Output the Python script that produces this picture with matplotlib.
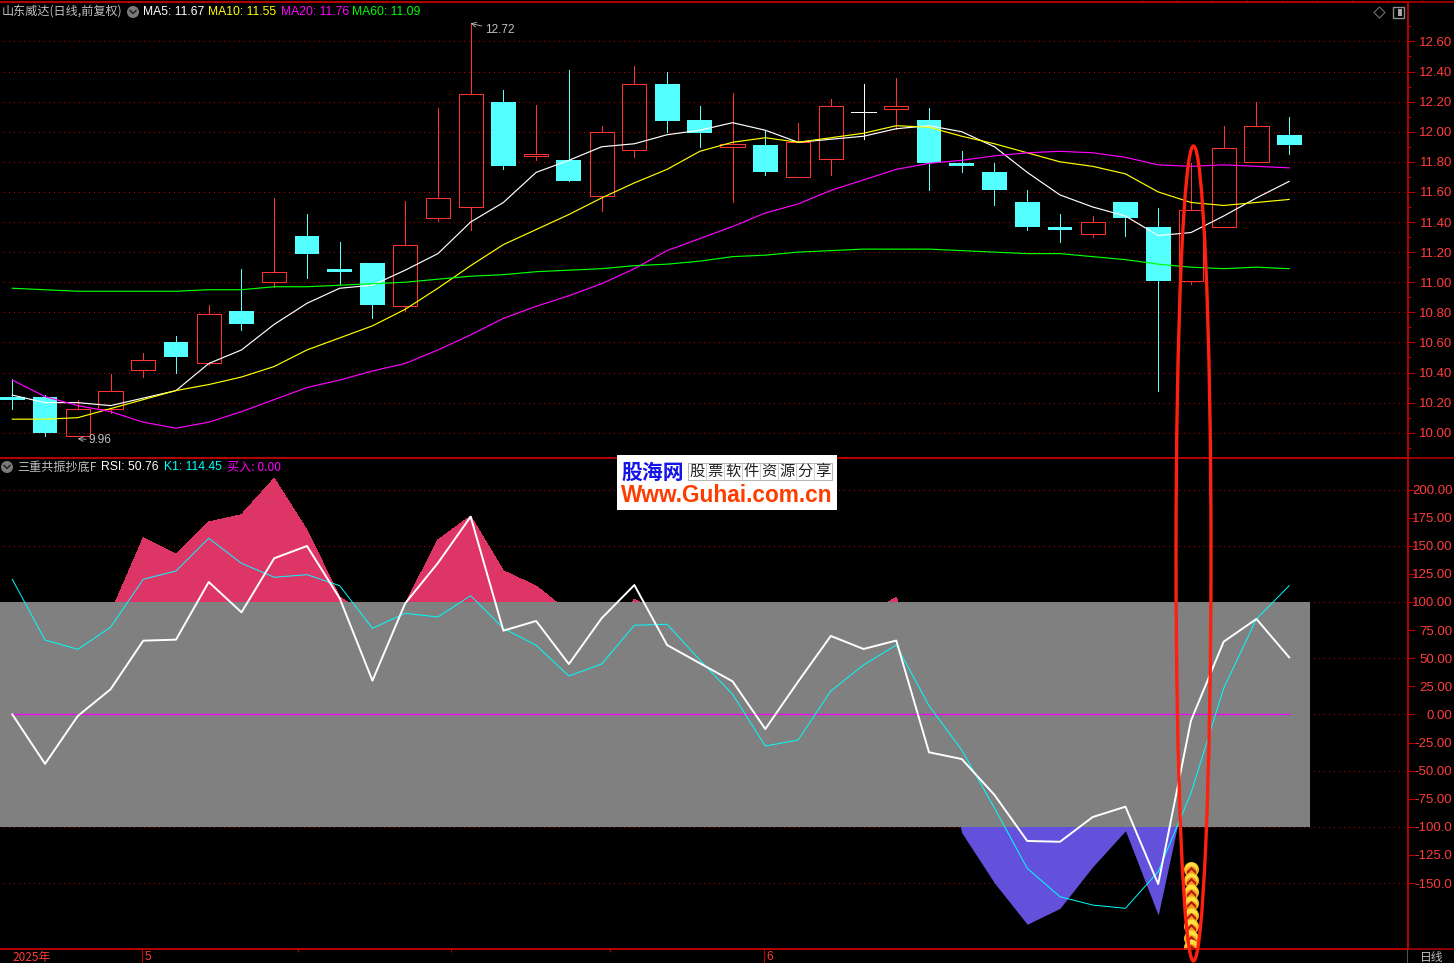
"""Stock candlestick chart with MA lines and an RSI / K1 sub-pane on a black terminal background."""

import matplotlib
matplotlib.use("Agg")
import matplotlib.pyplot as plt
from matplotlib.patches import Circle, Ellipse, Polygon, Rectangle

plt.rcParams["font.family"] = ["Noto Sans CJK SC", "DejaVu Sans"]

BLACK = "#000000"
RED = "#FF3232"
DARK_RED = "#B80000"
DOT_RED = "#C00000"
CYAN = "#54FFFF"
LABEL_RED = "#FF3C3C"
GREY = "#C0C0C0"
NUM_FONT = ["Liberation Sans", "DejaVu Sans"]

# Data
opens = [10.24, 10.24, 9.98, 10.16, 10.42, 10.60, 10.46, 10.81, 11.00, 11.31,
         11.09, 11.13, 10.84, 11.43, 11.50, 12.20, 11.84, 11.81, 11.57, 11.88,
         12.32, 12.08, 11.90, 11.91, 11.70, 11.82, 12.13, 12.15, 12.08, 11.79,
         11.73, 11.53, 11.37, 11.32, 11.53, 11.37, 11.01, 11.37, 11.80, 11.98]
closes = [10.22, 10.00, 10.16, 10.28, 10.48, 10.50, 10.79, 10.72, 11.07, 11.19,
          11.07, 10.85, 11.25, 11.56, 12.25, 11.77, 11.85, 11.67, 12.00, 12.32,
          12.07, 11.99, 11.92, 11.73, 11.93, 12.17, 12.13, 12.17, 11.79, 11.77,
          11.61, 11.37, 11.35, 11.40, 11.43, 11.01, 11.48, 11.89, 12.04, 11.91]
highs = [10.36, 10.25, 10.22, 10.39, 10.53, 10.64, 10.85, 11.09, 11.56, 11.45,
         11.27, 11.13, 11.54, 12.16, 12.72, 12.28, 12.18, 12.41, 12.04, 12.44,
         12.40, 12.17, 12.26, 12.01, 12.06, 12.22, 12.32, 12.36, 12.16, 11.87,
         11.79, 11.61, 11.45, 11.44, 11.53, 11.49, 11.79, 12.04, 12.20, 12.10]
lows = [10.16, 9.98, 9.98, 10.13, 10.37, 10.40, 10.45, 10.68, 10.97, 11.03,
        10.99, 10.76, 10.81, 11.41, 11.35, 11.75, 11.81, 11.67, 11.47, 11.83,
        12.00, 11.90, 11.53, 11.71, 11.70, 11.71, 11.95, 12.02, 11.61, 11.73,
        11.51, 11.35, 11.27, 11.30, 11.31, 10.28, 10.99, 11.37, 11.80, 11.85]

ma5 = [10.25, 10.20, 10.20, 10.18, 10.23, 10.28, 10.46, 10.55, 10.72, 10.86,
       10.96, 10.98, 11.08, 11.19, 11.40, 11.53, 11.73, 11.81, 11.90, 11.92,
       11.98, 12.01, 12.06, 12.01, 11.93, 11.95, 11.97, 12.02, 12.04, 12.00,
       11.90, 11.73, 11.58, 11.50, 11.44, 11.31, 11.33, 11.44, 11.56, 11.67]
ma10 = [10.09, 10.09, 10.10, 10.16, 10.22, 10.28, 10.32, 10.37, 10.44, 10.55,
        10.63, 10.71, 10.82, 10.96, 11.11, 11.25, 11.35, 11.45, 11.56, 11.66,
        11.75, 11.87, 11.93, 11.96, 11.93, 11.96, 11.99, 12.04, 12.03, 11.97,
        11.92, 11.86, 11.80, 11.77, 11.72, 11.60, 11.53, 11.51, 11.53, 11.55]
ma20 = [10.35, 10.24, 10.18, 10.14, 10.07, 10.03, 10.07, 10.14, 10.22, 10.30,
        10.35, 10.41, 10.46, 10.55, 10.65, 10.76, 10.84, 10.91, 10.99, 11.09,
        11.21, 11.29, 11.37, 11.46, 11.52, 11.61, 11.68, 11.75, 11.79, 11.81,
        11.84, 11.86, 11.87, 11.86, 11.83, 11.78, 11.77, 11.78, 11.77, 11.76]
ma60 = [10.96, 10.95, 10.94, 10.94, 10.94, 10.94, 10.95, 10.95, 10.97, 10.97,
        10.98, 10.99, 11.00, 11.02, 11.04, 11.05, 11.07, 11.08, 11.09, 11.11,
        11.12, 11.14, 11.17, 11.18, 11.20, 11.21, 11.22, 11.22, 11.22, 11.21,
        11.20, 11.19, 11.19, 11.17, 11.15, 11.12, 11.10, 11.09, 11.10, 11.09]

rsi = [0, -44, -1.4, 22.3, 65.6, 66.5, 117.8, 90.8, 138.9, 149.8,
       103.3, 30, 98.8, 134.7, 175.9, 74.5, 83.1, 44.8, 85.5, 115.1,
       61.7, 45.5, 29.4, -13, 29.1, 69.8, 58.2, 65.7, -33.7, -39.7,
       -71.7, -112.6, -113.3, -91.3, -82.1, -150.9, -5.6, 64.7, 84.9, 50.76]
k1 = [120.2, 66.2, 57.9, 77.5, 120.2, 127.6, 156.7, 134.4, 122, 124.3,
      114.5, 76.6, 89.9, 86.7, 105.6, 76.6, 61.5, 34.2, 44.8, 79.3,
      80.2, 48.4, 17.9, -28.1, -22.8, 20.8, 44, 61.7, 7.7, -31.7,
      -83.3, -136.9, -162.2, -169.6, -172.5, -139.9, -70.2, 23.2, 84.9, 114.45]
momentum = [40, 30, 40, 90, 157, 142.7, 171.2, 177.7, 210, 164,
            104.4, 85, 98.5, 155.2, 176.5, 127.8, 114.2, 91, 65, 102.4,
            87, 60, 50, 10, 30, 60, 87, 104.2, 10, -105.2,
            -150, -186.7, -172.5, -135.5, -103.5, -178.5, -44, 40, 60, 70]
buy_line = [0.0] * 40
buy_day = 36
buy_marks = [-137.5, -147.3, -157.7, -168, -178.5, -188.3, -198.7, -206.7]

price_ticks = [10.0, 10.2, 10.4, 10.6, 10.8, 11.0, 11.2, 11.4, 11.6, 11.8, 12.0, 12.2, 12.4, 12.6]
price_minor = [9.9, 10.1, 10.3, 10.5, 10.7, 10.9, 11.1, 11.3, 11.5, 11.7, 11.9, 12.1, 12.3, 12.5, 12.7]
rsi_ticks = [200, 175, 150, 125, 100, 75, 50, 25, 0, -25, -50, -75, -100, -125, -150]
rsi_labels = ["200.00", "175.00", "150.00", "125.00", "100.00", "75.00", "50.00", "25.00",
              "0.00", "-25.00", "-50.00", "-75.00", "-100.0", "-125.0", "-150.0"]
rsi_grid = [200, 150, 100, 50, 0, -50, -100, -150]
month_pos = [4, 23]
month_labels = ["5", "6"]
week_pos = [8.74, 13.4, 18.26]

xs = list(range(len(opens)))

fig = plt.figure(figsize=(14.54, 9.63), dpi=100, facecolor=BLACK)
W, H = 1454.0, 963.0


def px_axes(top, bottom, right=1408):
    return fig.add_axes([0, (H - bottom) / H, right / W, (bottom - top) / H], facecolor=BLACK)


ax_k = px_axes(2, 458)
ax_r = px_axes(458, 949)
for ax in (ax_k, ax_r):
    ax.set_xlim(-0.3757, 42.63)
    ax.set_xticks([])
    ax.yaxis.tick_right()
    for side, spine in ax.spines.items():
        spine.set_color(DARK_RED)
        spine.set_linewidth(1.2)
        spine.set_visible(side != "left")
ax_k.set_ylim(9.832, 12.862)
ax_r.set_ylim(-208.7, 228.1)

# price pane
ax_k.hlines(price_ticks, -1, 43, color=DOT_RED, lw=0.72, linestyles=(0, (1, 4.5)), zorder=1, antialiased=False)
for i in xs:
    o, c, h, l = opens[i], closes[i], highs[i], lows[i]
    top, bot = max(o, c), min(o, c)
    if c > o:
        ax_k.vlines(i, top, h, color=RED, lw=0.6, zorder=2, antialiased=False)
        ax_k.vlines(i, l, bot, color=RED, lw=0.6, zorder=2, antialiased=False)
        ax_k.bar(i, top - bot, bottom=bot, width=0.74, facecolor="none", edgecolor=RED, linewidth=0.75, zorder=2)
    elif c == o:
        ax_k.vlines(i, l, h, color="white", lw=0.6, zorder=2, antialiased=False)
        ax_k.hlines(c, i - 0.37, i + 0.37, color="white", lw=0.6, zorder=2, antialiased=False)
    else:
        ax_k.vlines(i, l, h, color=CYAN, lw=0.6, zorder=2, antialiased=False)
        ax_k.bar(i, top - bot, bottom=bot, width=0.76, color=CYAN, linewidth=0, zorder=2)

for series, col in ((ma5, "white"), (ma10, "#FFFF00"), (ma20, "#FF00FF"), (ma60, "#00FF00")):
    ax_k.plot(xs, series, color=col, lw=0.85, zorder=3)

ax_k.set_yticks(price_ticks)
ax_k.set_yticklabels([f"{t:.2f}" for t in price_ticks])
ax_k.set_yticks(price_minor, minor=True)
ax_k.tick_params(axis="y", which="major", right=True, length=5, width=0.8, color=DARK_RED,
                 labelcolor=LABEL_RED, labelsize=9.5, pad=27)
ax_k.tick_params(axis="y", which="minor", right=True, length=2, width=0.8, color=DARK_RED)

ax_k.annotate("12.72", xy=(14, 12.72), xytext=(10, -5), textcoords="offset points", color=GREY,
              fontsize=8.5, family=NUM_FONT, va="center",
              arrowprops=dict(arrowstyle="->", color=GREY, lw=0.6, shrinkA=0, shrinkB=0), zorder=6)
ax_k.annotate("9.96", xy=(2, 9.96), xytext=(8, -1), textcoords="offset points", color=GREY,
              fontsize=8.5, family=NUM_FONT, va="center",
              arrowprops=dict(arrowstyle="->", color=GREY, lw=0.6, shrinkA=0, shrinkB=0), zorder=6)

# RSI pane
ax_r.hlines(rsi_grid, -1, 43, color=DOT_RED, lw=0.72, linestyles=(0, (1, 4.5)), zorder=1, antialiased=False)
ax_r.fill_between(xs, 0, momentum, where=[m >= 0 for m in momentum], interpolate=True,
                  color="#DE3567", linewidth=0, zorder=2, antialiased=False)
ax_r.fill_between(xs, 0, momentum, where=[m <= 0 for m in momentum], interpolate=True,
                  color="#6451DB", linewidth=0, zorder=2, antialiased=False)
ax_r.fill_between([-0.3757, 39.65], -100, 100, color="#808080", linewidth=0, zorder=3)
ax_r.plot(xs, buy_line, color="#FF00FF", lw=0.9, zorder=4)
ax_r.plot(xs, k1, color="#00FFFF", lw=0.7, zorder=5)
ax_r.plot(xs, rsi, color="white", lw=1.4, zorder=6)

chevron = [(-1, -0.45), (0, 0.55), (1, -0.45), (1, -1.05), (0, -0.05), (-1, -1.05)]
for n, v in enumerate(buy_marks):
    z = 7 + n * 0.1
    ax_r.scatter([buy_day], [v], s=118, color="#F2B21C", linewidths=0, zorder=z)
    ax_r.scatter([buy_day], [v + 1.2], s=72, color="#FFE040", linewidths=0, zorder=z + 0.01)
    ax_r.scatter([buy_day], [v - 2.2], s=58, color="#F7981A", linewidths=0, zorder=z + 0.02)
    ax_r.plot([buy_day], [v], marker=chevron, ms=7, color="#B01414", mew=0, ls="none", zorder=z + 0.03)

ax_r.set_yticks(rsi_ticks)
ax_r.set_yticklabels(rsi_labels)
ax_r.tick_params(axis="y", which="major", right=True, length=5, width=0.8, color=DARK_RED,
                 labelcolor=LABEL_RED, labelsize=9.5, pad=27)

for ax in (ax_k, ax_r):
    for lab in ax.get_yticklabels():
        lab.set_ha("right")
        lab.set_family(NUM_FONT)

# chrome drawn in pixel coordinates over both panes
ov = fig.add_axes([0, 0, 1, 1], facecolor="none", zorder=10)
ov.set_xlim(0, W)
ov.set_ylim(H, 0)
ov.axis("off")


def toggle(x, y):
    ov.add_patch(Circle((x, y), 6, color="#7A7A7A", linewidth=0))
    ov.plot([x - 3, x, x + 3], [y - 1.5, y + 1.5, y - 1.5], color="#222222", lw=1.1)


def label(x, y, s, col, size=8.7, family=None):
    ov.text(x, y, s, color=col, fontsize=size, va="center", ha="left", family=family or plt.rcParams["font.family"])


ov.hlines([2.5, 458, 949], 0, W, color=DARK_RED, lw=1.1)
ov.vlines(1408, 2, 949, color=DARK_RED, lw=1.4)
ov.vlines(1407, 949, H, color="#555555", lw=0.7)
ov.vlines(range(1142, 1440, 35), 0, 2.5, color=DARK_RED, lw=0.8)

label(2, 12, "山东威达(日线,前复权)", GREY)
toggle(133, 12)
label(143, 12, "MA5: 11.67", "white", 8.7, NUM_FONT)
label(208, 12, "MA10: 11.55", "#FFFF00", 8.7, NUM_FONT)
label(281, 12, "MA20: 11.76", "#FF00FF", 8.7, NUM_FONT)
label(352, 12, "MA60: 11.09", "#00FF00", 8.7, NUM_FONT)

toggle(7, 467)
label(17, 467, "三重共振抄底F", GREY)
label(101, 467, "RSI: 50.76", "white", 8.7, NUM_FONT)
label(164, 467, "K1: 114.45", "#00FFFF", 8.7, NUM_FONT)
label(227, 467, "买入: 0.00", "#FF00FF")

ov.add_patch(Polygon([(1379.5, 7), (1385, 12.5), (1379.5, 18), (1374, 12.5)], fill=False, ec="#6E6E6E", lw=0.8))
ov.add_patch(Rectangle((1392.5, 7.5), 11, 10.5, fill=False, ec="#8C8C8C", lw=1.0))
ov.add_patch(Rectangle((1398, 9), 4, 7.5, color="#A8A8A8", lw=0))

# time axis
to_px = lambda d: 12.3 + 32.74 * d
label(12, 957, "2025年", LABEL_RED, 8.5)
for d, s in zip(month_pos, month_labels):
    ov.vlines(to_px(d) - 1, 949, H, color=DARK_RED, lw=0.8)
    label(to_px(d) + 1, 957, s, LABEL_RED, 8.5, NUM_FONT)
ov.vlines([to_px(d) for d in week_pos], 949, 952, color=DARK_RED, lw=0.8)
label(1420, 957, "日线", GREY, 8.5)

# site watermark
ov.add_patch(Rectangle((617, 455), 220, 55, color="white", lw=0, zorder=20))
ov.text(621, 472, "股海网", color="#1414E6", fontsize=15, fontweight="bold", va="center", zorder=21)
ov.add_patch(Rectangle((688, 463.5), 144, 17, fill=False, ec="#A8A8A8", lw=0.6, zorder=21))
for n, ch in enumerate("股票软件资源分享"):
    if n:
        ov.vlines(688 + 18 * n, 463.5, 480.5, color="#BEBEBE", lw=0.5, zorder=21)
    ov.text(697 + 18 * n, 471.5, ch, color="#222222", fontsize=11, ha="center", va="center", zorder=22)
ov.text(620.5, 495, "Www.Guhai.com.cn", color="#FF3C00", fontsize=16.3, fontweight="bold",
        family="Liberation Sans", va="center", zorder=21)

# hand-drawn red ring round the signal day
ov.add_patch(Ellipse((1193.5, 553.5), 35, 815, fill=False, ec="#FF2010", lw=2.4, zorder=15, clip_on=False))

fig.savefig("out.png", dpi=100, facecolor=BLACK)
plt.close(fig)
